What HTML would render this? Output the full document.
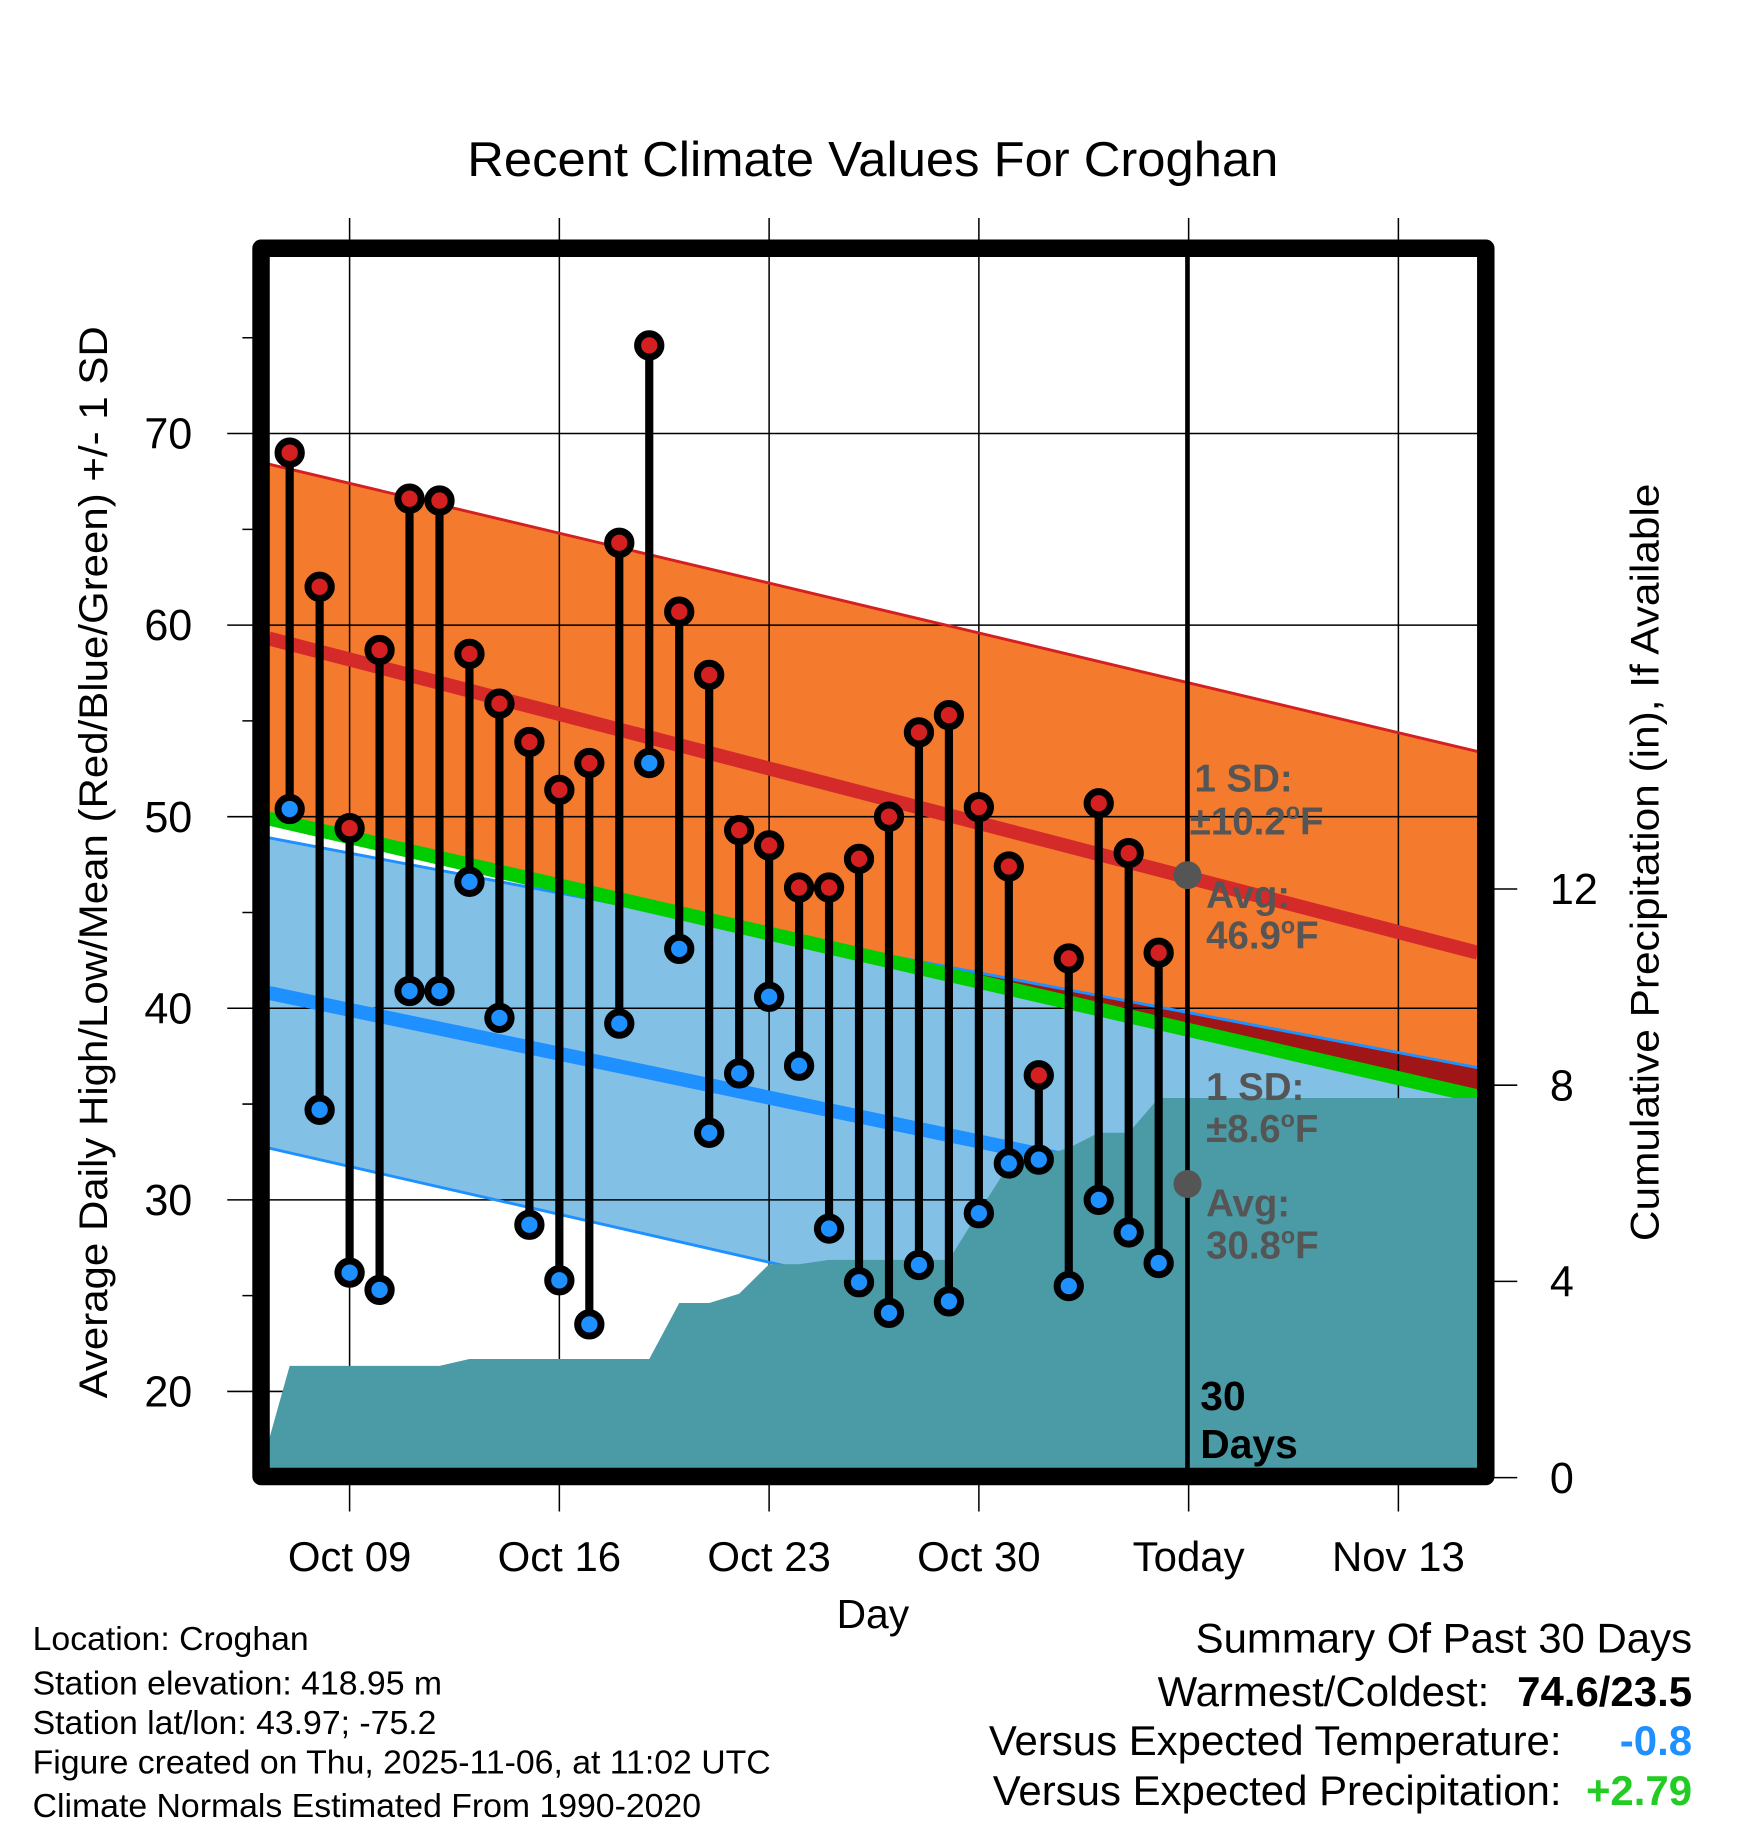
<!DOCTYPE html>
<html><head><meta charset="utf-8"><style>
html,body{margin:0;padding:0;background:#fff}
svg{display:block;font-family:"Liberation Sans",Arial,sans-serif}
</style></head><body>
<svg id="chart" width="1748" height="1828" viewBox="0 0 1500 1568.6" xmlns="http://www.w3.org/2000/svg">
<g id="fills"></g><g id="grid"></g><g id="lines"></g><g id="precip"></g><g id="marks"></g>
<rect x="224" y="213" width="1051" height="1054" fill="none" stroke="#000" stroke-width="15" stroke-linejoin="round"/>
<line x1="1019" y1="220" x2="1019" y2="1260" stroke="#000" stroke-width="4"/>
<text x="749" y="151" font-size="42" text-anchor="middle" textLength="696" lengthAdjust="spacingAndGlyphs">Recent Climate Values For Croghan</text>
<text transform="translate(92,740) rotate(-90)" font-size="34" text-anchor="middle" textLength="920" lengthAdjust="spacingAndGlyphs">Average Daily High/Low/Mean (Red/Blue/Green) +/- 1 SD</text>
<text transform="translate(1423,740) rotate(-90)" font-size="34" text-anchor="middle" textLength="650" lengthAdjust="spacingAndGlyphs">Cumulative Precipitation (in), If Available</text>
<text x="749" y="1397" font-size="35" text-anchor="middle">Day</text>
<g fill="#555" font-weight="bold" font-size="33">
<text x="1025" y="679">1 SD:</text><text x="1021" y="716">±10.2<tspan font-size="20" dy="-13">o</tspan><tspan dy="13">F</tspan></text>
<circle cx="1019" cy="751" r="12" fill="#555"/>
<text x="1035" y="779">Avg:</text><text x="1035" y="814">46.9<tspan font-size="20" dy="-13">o</tspan><tspan dy="13">F</tspan></text>
</g>
<g fill="#555" font-weight="bold" font-size="33">
<text x="1035" y="944">1 SD:</text><text x="1035" y="980">±8.6<tspan font-size="20" dy="-13">o</tspan><tspan dy="13">F</tspan></text>
<circle cx="1019" cy="1016" r="12" fill="#555"/>
<text x="1035" y="1044">Avg:</text><text x="1035" y="1080">30.8<tspan font-size="20" dy="-13">o</tspan><tspan dy="13">F</tspan></text>
</g>
<g font-weight="bold" font-size="35"><text x="1030" y="1210">30</text><text x="1030" y="1251">Days</text></g>
<g font-size="29">
<text x="28" y="1416">Location: Croghan</text>
<text x="28" y="1454">Station elevation: 418.95 m</text>
<text x="28" y="1488">Station lat/lon: 43.97; -75.2</text>
<text x="28" y="1522">Figure created on Thu, 2025-11-06, at 11:02 UTC</text>
<text x="28" y="1559">Climate Normals Estimated From 1990-2020</text>
</g>
<g font-size="36">
<text x="1452" y="1418" text-anchor="end">Summary Of Past 30 Days</text>
<text x="1278" y="1464" text-anchor="end">Warmest/Coldest:</text>
<text x="1452" y="1464" text-anchor="end" font-weight="bold">74.6/23.5</text>
<text x="1340" y="1506" text-anchor="end">Versus Expected Temperature:</text>
<text x="1452" y="1506" text-anchor="end" font-weight="bold" fill="#1e90ff">-0.8</text>
<text x="1340" y="1549" text-anchor="end">Versus Expected Precipitation:</text>
<text x="1452" y="1549" text-anchor="end" font-weight="bold" fill="#22cc22">+2.79</text>
</g>
</svg>
<script>
// day offsets are days since Oct 9
const dayLabels = ["Oct 09","Oct 16","Oct 23","Oct 30","Today","Nov 13"];
const dayTicks = [0,7,14,21,28,35];
const tempTicks = [20,30,40,50,60,70];
const precipTicks = [0,4,8,12];
const obsDays = [-2,-1,0,1,2,3,4,5,6,7,8,9,10,11,12,13,14,15,16,17,18,19,20,21,22,23,24,25,26,27];
const highs = [69.0,62.0,49.4,58.7,66.6,66.5,58.5,55.9,53.9,51.4,52.8,64.3,74.6,60.7,57.4,49.3,48.5,46.3,46.3,47.8,50.0,54.4,55.3,50.5,47.4,36.5,42.6,50.7,48.1,42.9];
const lows = [50.4,34.7,26.2,25.3,40.9,40.9,46.6,39.5,28.7,25.8,23.5,39.2,52.8,43.1,33.5,36.6,40.6,37.0,28.5,25.7,24.1,26.6,24.7,29.3,31.9,32.1,25.5,30.0,28.3,26.7];
const precipDays = [-3,-2,-1,0,1,2,3,4,5,6,7,8,9,10,11,12,13,14,15,16,17,18,19,20,21,22,23,24,25,26,27,28];
const precip = [0.1,2.28,2.28,2.28,2.28,2.28,2.28,2.42,2.42,2.42,2.42,2.42,2.42,2.42,3.56,3.56,3.75,4.35,4.35,4.44,4.44,4.44,4.44,4.44,5.42,6.37,6.55,6.72,7.03,7.03,7.74,7.74];
const normDays = [-2.69,37.65];
const normHigh = [59.3,42.9];
const normLow = [40.8,27.6];
const normMean = [49.9,35.4];
const sdHigh = [9.1,10.5];
const sdLow = [8.1,9.3];

const NS="http://www.w3.org/2000/svg";
const L=231,R=1268,T=220,B=1260;
const X=d=>300+d*25.714;
const Y=t=>1194-(t-20)*16.44;
const P=p=>1268-p*42.1;
function mk(parent,tag,attrs){const e=document.createElementNS(NS,tag);for(const k in attrs)e.setAttribute(k,attrs[k]);document.getElementById(parent).appendChild(e);return e;}
const x0=X(normDays[0]),x1=X(normDays[1]);
const hiTop=[Y(normHigh[0]+sdHigh[0]),Y(normHigh[1]+sdHigh[1])];
const mean=[Y(normMean[0]),Y(normMean[1])];
const loTop=[Y(normLow[0]+sdLow[0]),Y(normLow[1]+sdLow[1])];
const loBot=[Y(normLow[0]-sdLow[0]),Y(normLow[1]-sdLow[1])];
let e;
e=mk('fills','polygon',{points:`${x0},${hiTop[0]} ${x1},${hiTop[1]} ${x1},${mean[1]} ${x0},${mean[0]}`,fill:'#f47a2e'});


e=mk('fills','polygon',{points:`${x0},${loTop[0]} ${x1},${loTop[1]} ${x1},${loBot[1]} ${x0},${loBot[0]}`,fill:'#82c0e6'});


const dA=loTop[0]-mean[0],dB=loTop[1]-mean[1];
if(dA*dB<0){const f=dA/(dA-dB);const xc=x0+f*(x1-x0),yc=loTop[0]+f*(loTop[1]-loTop[0]);
e=mk('fills','polygon',{points:`${xc},${yc} ${x1},${loTop[1]} ${x1},${mean[1]}`,fill:'#a01515'});

}
tempTicks.forEach(t=>{e=mk('grid','line',{x1:195,x2:R,y1:Y(t),y2:Y(t),stroke:'#000','stroke-width':1.3});


e=mk('grid','text',{x:165,y:Y(t)+13,'font-size':37,'text-anchor':'end'});e.textContent=t;

});
[25,35,45,55,65,75].forEach(t=>{e=mk('grid','line',{x1:208,x2:224,y1:Y(t),y2:Y(t),stroke:'#000','stroke-width':1.3});

});
dayTicks.forEach((d,i)=>{e=mk('grid','line',{x1:X(d),x2:X(d),y1:187,y2:1297,stroke:'#000','stroke-width':1.3});


e=mk('grid','text',{x:X(d),y:1348,'font-size':36,'text-anchor':'middle'});e.textContent=dayLabels[i];

});
precipTicks.forEach(p=>{e=mk('grid','line',{x1:1275,x2:1302,y1:P(p),y2:P(p),stroke:'#000','stroke-width':1.3});


e=mk('grid','text',{x:1330,y:P(p)+13,'font-size':37});e.textContent=p;

});
[[hiTop,'#d42020',2.5,'high-sd-top'],[loTop,'#1e90ff',2.5,'low-sd-top'],[loBot,'#1e90ff',2.5,'low-sd-bottom'],
 [[Y(normHigh[0]),Y(normHigh[1])],'#d42a2a',12,'normal-high-line'],[[Y(normLow[0]),Y(normLow[1])],'#1e90ff',12,'normal-low-line'],[mean,'#00cc00',12,'normal-mean-line']].forEach(a=>{
e=mk('lines','line',{x1:x0,x2:x1,y1:a[0][0],y2:a[0][1],stroke:a[1],'stroke-width':a[2]});

});
let pts=`${L},${B} `;
const pp=precipDays.map((d,i)=>[X(d),P(precip[i])]);
const f0=(L-pp[0][0])/(pp[1][0]-pp[0][0]);pts+=`${L},${pp[0][1]+f0*(pp[1][1]-pp[0][1])} `;
pp.forEach(p=>{if(p[0]>L)pts+=`${p[0]},${p[1]} `;});
pts+=`${R},${pp[pp.length-1][1]} ${R},${B}`;
e=mk('precip','polygon',{points:pts,fill:'#4a9ba5'});


obsDays.forEach((d,i)=>{const x=X(d);
e=mk('marks','line',{x1:x,x2:x,y1:Y(highs[i]),y2:Y(lows[i]),stroke:'#000','stroke-width':7});


e=mk('marks','circle',{cx:x,cy:Y(highs[i]),r:10,fill:'#d42020',stroke:'#000','stroke-width':6});


e=mk('marks','circle',{cx:x,cy:Y(lows[i]),r:10,fill:'#1e90ff',stroke:'#000','stroke-width':6});

});
</script>
</body></html>
